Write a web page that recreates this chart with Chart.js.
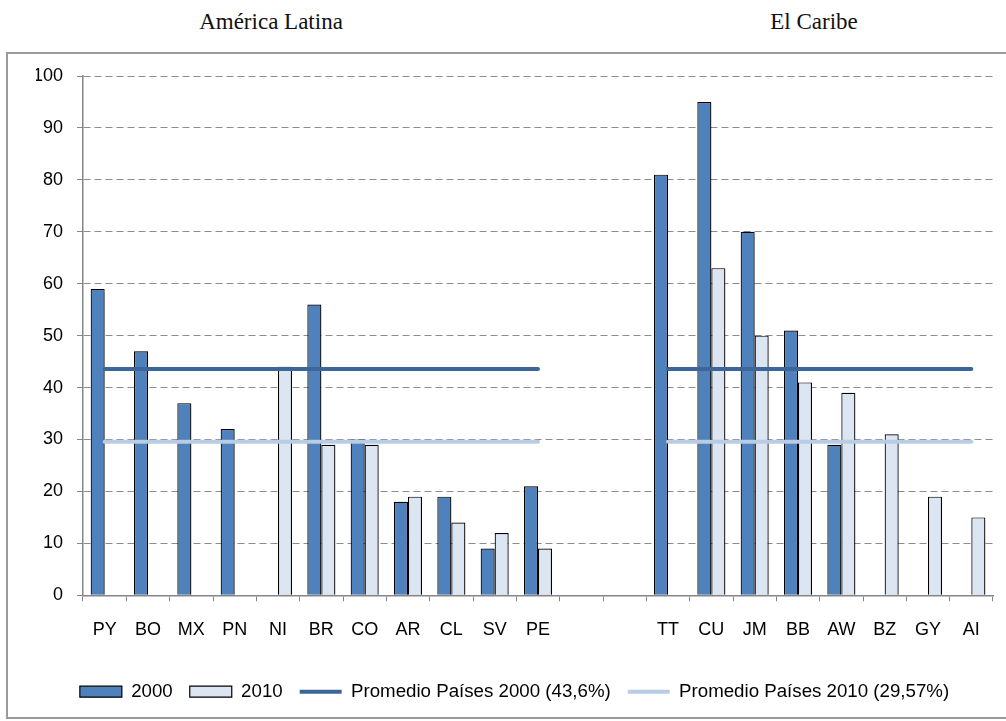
<!DOCTYPE html>
<html><head><meta charset="utf-8">
<script src="https://cdn.jsdelivr.net/npm/chart.js@4.4.1/dist/chart.umd.min.js"></script>
<style>
html,body{margin:0;padding:0;background:#fff;}
#wrap{position:relative;width:1006px;height:721px;overflow:hidden;}
#frame{position:absolute;left:6px;top:52px;width:1010px;height:667px;border:2px solid #9a9a9a;box-sizing:border-box;}
.t{position:absolute;top:9px;font-family:"Liberation Serif",serif;font-size:23px;color:#111;transform:translateX(-50%);white-space:nowrap;}
canvas{position:absolute;left:0;top:0;}
</style></head><body>
<div id="wrap">
<div id="frame"></div>
<div class="t" style="left:271px">América Latina</div>
<div class="t" style="left:814px">El Caribe</div>
<canvas id="c" width="1006" height="721"></canvas>
</div>
<script>
const categories = ['PY','BO','MX','PN','NI','BR','CO','AR','CL','SV','PE','','','TT','CU','JM','BB','AW','BZ','GY','AI'];
const values2000 = [59,47,37,32,null,56,30,18,19,9,21,null,null,81,95,70,51,29,null,null,null];
const values2010 = [null,null,null,null,44,29,29,19,14,12,9,null,null,null,63,50,41,39,31,19,15];
const avg2000 = [43.6,43.6,43.6,43.6,43.6,43.6,43.6,43.6,43.6,43.6,43.6,null,null,43.6,43.6,43.6,43.6,43.6,43.6,43.6,43.6];
const avg2010 = [29.57,29.57,29.57,29.57,29.57,29.57,29.57,29.57,29.57,29.57,29.57,null,null,29.57,29.57,29.57,29.57,29.57,29.57,29.57,29.57];
const seriesNames = ['2000','2010','Promedio Países 2000 (43,6%)','Promedio Países 2010 (29,57%)'];
const yMin = 0, yMax = 100, yStep = 10;

Chart.defaults.font.family = '"Liberation Sans", Arial, sans-serif';
Chart.defaults.font.size = 18;
Chart.defaults.color = '#000';

const shadowPlugin = {
  id: 'barShadow',
  beforeDatasetDraw(chart, args) {
    if (chart.data.datasets[args.index].type !== 'line') {
      const c = chart.ctx; c.save();
      c.shadowColor = 'rgba(0,0,0,0.28)'; c.shadowBlur = 4; c.shadowOffsetX = 2; c.shadowOffsetY = 1;
    }
  },
  afterDatasetDraw(chart, args) {
    if (chart.data.datasets[args.index].type !== 'line') chart.ctx.restore();
  }
};

new Chart(document.getElementById('c'), {
  type: 'bar',
  data: {
    labels: categories,
    datasets: [
      {type:'bar', label: seriesNames[0], data: values2000, backgroundColor:'#4f81bd', borderColor:'#000', borderWidth:1.2, categoryPercentage:0.646, barPercentage:1.0, order:0},
      {type:'bar', label: seriesNames[1], data: values2010, backgroundColor:'#dce6f2', borderColor:'#000', borderWidth:1.2, categoryPercentage:0.646, barPercentage:1.0, order:0},
      {type:'line', label: seriesNames[2], data: avg2000, borderColor:'#3c6699', backgroundColor:'#3c6699', borderWidth:4, pointRadius:0, borderCapStyle:'round', spanGaps:false, order:-1},
      {type:'line', label: seriesNames[3], data: avg2010, borderColor:'#b8cce4', backgroundColor:'#b8cce4', borderWidth:4, pointRadius:0, borderCapStyle:'round', spanGaps:false, order:-1}
    ]
  },
  options: {
    responsive: false,
    animation: false,
    events: [],
    layout: { padding: { left: 36, right: 13, top: 76, bottom: 10 } },
    scales: {
      x: {
        grid: { drawOnChartArea: false, drawTicks: true, tickLength: 6, color: '#868686', offset: true },
        border: { color: '#868686', width: 1.5 },
        ticks: { padding: 18, autoSkip: false, maxRotation: 0, color:'#000' },
        afterFit(s) { s.height = 70; }
      },
      y: {
        min: yMin, max: yMax,
        ticks: { stepSize: yStep, padding: 14, color:'#000' },
        grid: { color: '#8c8c8c', lineWidth: 1, tickLength: 6, tickColor: '#868686', tickBorderDash: [] },
        border: { color: '#868686', width: 1.5, dash: [7,4] },
        afterFit(s) { s.width = 47; }
      }
    },
    plugins: {
      tooltip: { enabled: false },
      legend: {
        position: 'bottom',
        labels: {
          usePointStyle: true,
          pointStyleWidth: 42,
          boxHeight: 11,
          padding: 17,
          color: '#000',
          font: { size: 18.7 },
          generateLabels(chart) {
            const items = Chart.defaults.plugins.legend.labels.generateLabels(chart);
            items.forEach(l => {
              const ds = chart.data.datasets[l.datasetIndex];
              if (ds.type === 'line') {
                l.pointStyle = 'line'; l.lineWidth = 4; l.strokeStyle = ds.borderColor; l.fillStyle = ds.borderColor; l.lineCap = 'butt';
              } else {
                l.pointStyle = 'rect'; l.lineWidth = 1.2; l.strokeStyle = '#000'; l.fillStyle = ds.backgroundColor;
              }
            });
            return items.sort((a, b) => a.datasetIndex - b.datasetIndex);
          }
        }
      }
    }
  },
  plugins: [shadowPlugin]
});
</script>
</body></html>
